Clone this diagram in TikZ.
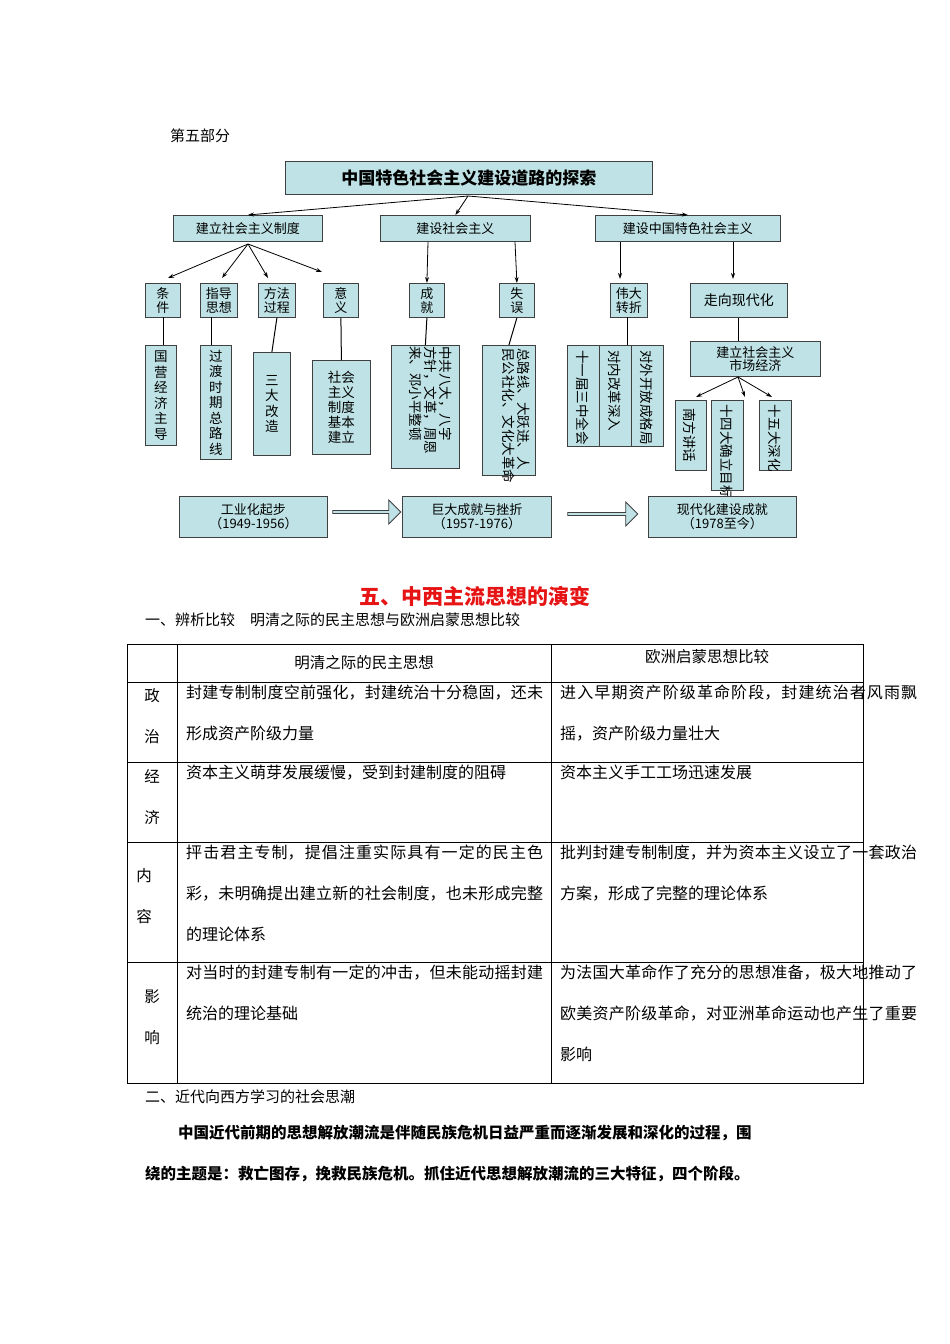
\documentclass[tikz,border=0pt]{standalone}
\usepackage{fontspec}
\setmainfont{Noto Sans CJK SC}
\XeTeXlinebreaklocale "zh"
\XeTeXlinebreakskip=0pt plus 1pt
\usetikzlibrary{shapes.arrows,arrows.meta}
\definecolor{bx}{RGB}{190,226,229}
\definecolor{hred}{RGB}{230,20,20}
\tikzset{
 bxs/.style={draw=black!75,line width=0.8pt,fill=bx,inner sep=0pt,font=\fontsize{13}{14}\selectfont,align=center},
 arr/.style={-{Stealth[length=6pt,width=4pt]},line width=0.8pt},
 ln/.style={line width=1pt},
 vt/.style={font=\fontsize{13.5}{15}\selectfont,rotate=-90,align=left,inner sep=0pt},
 tx/.style={font=\fontsize{15}{17}\selectfont,anchor=west,inner sep=0pt},
 bigarr/.style={single arrow,draw=black!75,fill=bx,line width=0.8pt,minimum height=68pt,minimum width=24pt,single arrow head extend=3pt,inner sep=0pt}
}
\newcommand{\bxat}[5]{\node[bxs,minimum width=#3-#1,minimum height=#4-#2,anchor=north west] (#5) at (#1,#2) {};}
\begin{document}
\begin{tikzpicture}[x=1pt,y=-1pt]
\useasboundingbox[fill=white] (0,0) rectangle (950,1344);
\node[tx] (p5) at (170,136) {第五部分};
% title
\node[bxs,minimum width=367,minimum height=33,font=\fontsize{17}{18}\selectfont\bfseries,anchor=north west] (t) at (285,161) {中国特色社会主义建设道路的探索};
\node[bxs,minimum width=149,minimum height=26,anchor=north west] (a) at (173,215) {建立社会主义制度};
\node[bxs,minimum width=150,minimum height=26,anchor=north west] (b) at (380,215) {建设社会主义};
\node[bxs,minimum width=185,minimum height=26,anchor=north west] (c) at (595,215) {建设中国特色社会主义};
\coordinate (tb) at (468,196);
\draw[arr] (tb) -- (a.north);
\draw[arr] (tb) -- (b.north);
\draw[arr] (tb) -- (c.north);
% row3
\node[bxs,minimum width=35,minimum height=34,anchor=north west] (r1) at (145,283) {条\\件};
\node[bxs,minimum width=37,minimum height=34,anchor=north west] (r2) at (200,283) {指导\\思想};
\node[bxs,minimum width=37,minimum height=34,anchor=north west] (r3) at (258,283) {方法\\过程};
\node[bxs,minimum width=35,minimum height=34,anchor=north west] (r4) at (323,283) {意\\义};
\node[bxs,minimum width=35,minimum height=34,anchor=north west] (r5) at (409,283) {成\\就};
\node[bxs,minimum width=35,minimum height=34,anchor=north west] (r6) at (499,283) {失\\误};
\node[bxs,minimum width=37,minimum height=34,anchor=north west] (r7) at (610,283) {伟大\\转折};
\node[bxs,minimum width=97,minimum height=34,anchor=north west,font=\fontsize{14}{15}\selectfont] (r8) at (690,283) {走向现代化};
\coordinate (as) at (248,244);
\draw[arr] (as) -- (168,278);
\draw[arr] (as) -- (222,278);
\draw[arr] (as) -- (268,278);
\draw[arr] (as) -- (322,272);
\draw[arr] (428,242) -- (r5.north);
\draw[arr] (515,242) -- (r6.north);
\draw[arr] (620,242) -- (620,279);
\draw[arr] (733,242) -- (733,279);
% row4
\node[bxs,minimum width=31,minimum height=100,anchor=north west,font=\fontsize{13.5}{15.5}\selectfont] (s1) at (145,345) {国\\营\\经\\济\\主\\导};
\node[bxs,minimum width=31,minimum height=114,anchor=north west,font=\fontsize{13.5}{15.5}\selectfont] (s2) at (200,345) {过\\渡\\时\\期\\总\\路\\线};
\node[bxs,minimum width=37,minimum height=103,anchor=north west,font=\fontsize{13.5}{15.5}\selectfont] (s3) at (253,352) {三\\大\\改\\造};
\node[bxs,minimum width=58,minimum height=94,anchor=north west,font=\fontsize{13.5}{15}\selectfont] (s4) at (312,360) {社会\\主义\\制度\\基本\\建立};
\draw[ln] (163,317) -- (163,345);
\draw[ln] (211,317) -- (211,345);
\draw[ln] (r3.south) -- (s3.north);
\draw[ln] (r4.south) -- (s4.north);
\bxat{391}{345}{459}{468}{s5}
\node[vt,anchor=north west] (s5t) at (452,346) {中共八大，八字\\方针，文革，周恩\\来、邓小平整顿};
\bxat{482}{345}{535}{475}{s6}
\node[vt,anchor=north west] (s6t) at (530,348) {总路线、大跃进、人\\民公社化、文化大革命};
\draw[ln] (r5.south) -- (s5.north);
\draw[ln] (r6.south) -- (s6.north);
\bxat{567}{345}{599}{446}{s7}
\bxat{599}{345}{631}{446}{s8}
\bxat{631}{345}{663}{446}{s9}
\node[vt,anchor=west] (s7t) at (583,350) {十一届三中全会};
\node[vt,anchor=west] (s8t) at (615,350) {对内改革深入};
\node[vt,anchor=west] (s9t) at (647,350) {对外开放成格局};
\draw[ln] (627,317) -- (627,345);
\node[bxs,minimum width=130,minimum height=35,anchor=north west,font=\fontsize{13}{13}\selectfont] (m) at (690,341) {建立社会主义\\市场经济};
\draw[ln] (r8.south) -- (m.north -| r8.south);
\bxat{675}{400}{706}{470}{u1}
\bxat{711}{400}{743}{490}{u2}
\bxat{759}{400}{791}{470}{u3}
\node[vt,anchor=west] (u1t) at (690,408) {南方讲话};
\node[vt,anchor=west] (u2t) at (727,404) {十四大确立目标};
\node[vt,anchor=west] (u3t) at (775,404) {十五大深化};
\coordinate (ms) at (738,377);
\draw[arr] (ms) -- (696,397);
\draw[arr] (ms) -- (745,397);
\draw[arr] (ms) -- (772,397);
% bottom
\node[bxs,minimum width=148,minimum height=41,anchor=north west] (v1) at (179,496) {工业化起步\\（1949-1956）};
\node[bxs,minimum width=149,minimum height=41,anchor=north west] (v2) at (402,496) {巨大成就与挫折\\（1957-1976）};
\node[bxs,minimum width=148,minimum height=41,anchor=north west] (v3) at (648,496) {现代化建设成就\\（1978至今）};
\node[bigarr] (w1) at (366,512) {};
\node[bigarr,minimum height=70pt] (w2) at (602,514) {};
% heading
\node[font=\fontsize{21}{22}\selectfont\bfseries,text=hred,inner sep=0pt] (h) at (475,596) {五、中西主流思想的演变};
\node[tx] (l1) at (145,620) {一、辨析比较\quad 明清之际的民主思想与欧洲启蒙思想比较};
% table
\draw[line width=0.7pt] (127,644) rectangle (863,1083);
\foreach \yy in {682,762,842,962} \draw[line width=0.7pt] (127,\yy) -- (863,\yy);
\draw[line width=0.7pt] (177,644) -- (177,1083);
\draw[line width=0.7pt] (551,644) -- (551,1083);
\tikzset{hc/.style={font=\fontsize{15.5}{17}\selectfont}}
\node[hc] (th1) at (364,663) {明清之际的民主思想};
\node[hc] (th2) at (707,657) {欧洲启蒙思想比较};
\node[hc] (c11) at (152,696) {政};
\node[hc] (c12) at (152,737) {治};
\node[hc] (c21) at (152,776) {经};
\node[hc] (c22) at (152,817) {济};
\node[hc] (c31) at (144,876) {内};
\node[hc] (c32) at (144,917) {容};
\node[hc] (c41) at (152,997) {影};
\node[hc] (c42) at (152,1038) {响};
\tikzset{cell/.style={font=\fontsize{16}{41}\selectfont,anchor=north west,inner sep=0pt,text width=357pt,align=justify}}
\node[cell] (d11) at (186,685) {封建专制制度空前强化，封建统治十分稳固，还未形成资产阶级力量};
\node[cell] (d12) at (560,685) {进入早期资产阶级革命阶段，封建统治者风雨飘摇，资产阶级力量壮大};
\node[cell] (d21) at (186,765) {资本主义萌芽发展缓慢，受到封建制度的阻碍};
\node[cell] (d22) at (560,765) {资本主义手工工场迅速发展};
\node[cell] (d31) at (186,845) {抨击君主专制，提倡注重实际具有一定的民主色彩，未明确提出建立新的社会制度，也未形成完整的理论体系};
\node[cell] (d32) at (560,845) {批判封建专制制度，并为资本主义设立了一套政治方案，形成了完整的理论体系};
\node[cell] (d41) at (186,965) {对当时的封建专制有一定的冲击，但未能动摇封建统治的理论基础};
\node[cell] (d42) at (560,965) {为法国大革命作了充分的思想准备，极大地推动了欧美资产阶级革命，对亚洲革命运动也产生了重要影响};
\node[tx] (l2) at (145,1097) {二、近代向西方学习的社会思潮};
\node[tx,font=\fontsize{15.5}{17}\selectfont\bfseries] (l3) at (178,1133) {中国近代前期的思想解放潮流是伴随民族危机日益严重而逐渐发展和深化的过程，围};
\node[tx,font=\fontsize{15.5}{17}\selectfont\bfseries] (l4) at (145,1174) {绕的主题是：救亡图存，挽救民族危机。抓住近代思想解放潮流的三大特征，四个阶段。};
\end{tikzpicture}
\end{document}
